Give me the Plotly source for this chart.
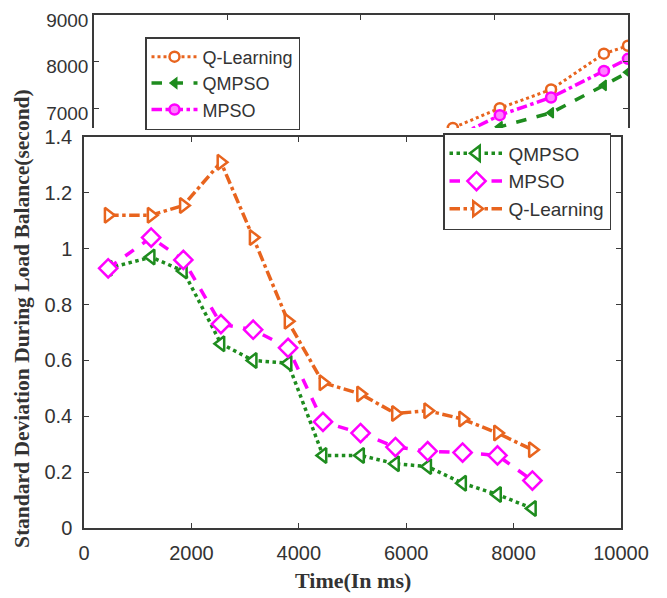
import plotly.graph_objects as go

# ---- main chart data ----
time_ms = [450, 1250, 1850, 2550, 3150, 3800, 4450, 5150, 5800, 6400, 7050, 7700, 8350]
qmpso_sd = [0.93, 0.97, 0.92, 0.66, 0.60, 0.59, 0.26, 0.26, 0.23, 0.22, 0.16, 0.12, 0.07]
mpso_sd = [0.93, 1.04, 0.96, 0.73, 0.71, 0.645, 0.38, 0.34, 0.29, 0.275, 0.27, 0.26, 0.17]
qlearn_sd = [1.12, 1.12, 1.155, 1.31, 1.04, 0.74, 0.52, 0.48, 0.41, 0.42, 0.39, 0.34, 0.28]

main_x_ticks = [0, 2000, 4000, 6000, 8000, 10000]
main_y_ticks = [0, 0.2, 0.4, 0.6, 0.8, 1.0, 1.2, 1.4]
main_y_labels = ["0", "0.2", "0.4", "0.6", "0.8", "1", "1.2", "1.4"]

# ---- partially hidden background chart data ----
bg_time = [5800, 6720, 7600, 8560, 9550, 10000]
bg_qlearn = [6150, 6575, 7000, 7400, 8170, 8340]
bg_qmpso = [5500, 6100, 6600, 6900, 7490, 7770]
bg_mpso = [5800, 6350, 6850, 7230, 7800, 8060]
bg_y_ticks = [7000, 8000, 9000]

W, H = 667, 598
OFF = 8  # page body margin offset
GREEN = "#1e8c1e"
MAGENTA = "#ff00ff"
ORANGE = "#e8641e"
AXIS = "#3a3a3a"
TXT = "#333333"
SANS = "Liberation Sans, Arial, sans-serif"
SERIF = "Liberation Serif, Times New Roman, serif"

def px_x(p):
    return (p - OFF) / W

def px_y(p):
    return 1 - (p - OFF) / H

fig = go.Figure()

# main traces
fig.add_trace(go.Scatter(
    x=time_ms, y=qmpso_sd, name="QMPSO", mode="lines+markers",
    line=dict(color=GREEN, width=3.5, dash="dot"),
    marker=dict(symbol="triangle-left", size=13, color="white",
                line=dict(color=GREEN, width=2.5)),
    xaxis="x", yaxis="y", legend="legend"))
fig.add_trace(go.Scatter(
    x=time_ms, y=mpso_sd, name="MPSO", mode="lines+markers",
    line=dict(color=MAGENTA, width=3.5, dash="dash"),
    marker=dict(symbol="diamond", size=14, color="white",
                line=dict(color=MAGENTA, width=2.5)),
    xaxis="x", yaxis="y", legend="legend"))
fig.add_trace(go.Scatter(
    x=time_ms, y=qlearn_sd, name="Q-Learning", mode="lines+markers",
    line=dict(color=ORANGE, width=3.5, dash="dashdot"),
    marker=dict(symbol="triangle-right", size=13, color="white",
                line=dict(color=ORANGE, width=2.5)),
    xaxis="x", yaxis="y", legend="legend"))

# background traces
fig.add_trace(go.Scatter(
    x=bg_time, y=bg_qlearn, name="Q-Learning", mode="lines+markers",
    line=dict(color=ORANGE, width=3, dash="dot"),
    marker=dict(symbol="circle", size=10, color="white",
                line=dict(color=ORANGE, width=2.5)),
    xaxis="x2", yaxis="y2", legend="legend2"))
fig.add_trace(go.Scatter(
    x=bg_time, y=bg_qmpso, name="QMPSO", mode="lines+markers",
    line=dict(color=GREEN, width=3.5, dash="dash"),
    marker=dict(symbol="triangle-left", size=9, color=GREEN,
                line=dict(color=GREEN, width=1.5)),
    xaxis="x2", yaxis="y2", legend="legend2"))
fig.add_trace(go.Scatter(
    x=bg_time, y=bg_mpso, name="MPSO", mode="lines+markers",
    line=dict(color=MAGENTA, width=3.5, dash="dashdot"),
    marker=dict(symbol="circle", size=10, color="#ff80ff",
                line=dict(color=MAGENTA, width=2.5)),
    xaxis="x2", yaxis="y2", legend="legend2"))

axis_common = dict(showgrid=False, zeroline=False, showline=True,
                   linecolor=AXIS, linewidth=1.5, ticks="inside",
                   ticklen=5, tickwidth=1.2, tickcolor=AXIS, automargin=False,
                   ticklabeloverflow="allow")

main_font = dict(family=SANS, size=20, color=TXT)
bg_font = dict(family=SANS, size=19, color=TXT)

fig.update_layout(
    width=W, height=H, autosize=False,
    margin=dict(l=0, r=0, t=0, b=0, pad=0, autoexpand=False),
    paper_bgcolor="white", plot_bgcolor="white",
    xaxis=dict(domain=[px_x(84), px_x(621)], range=[0, 10000],
               tickvals=main_x_ticks, ticktext=[str(v) for v in main_x_ticks],
               mirror="allticks", anchor="y", ticklabelstandoff=6,
               tickfont=main_font, **axis_common),
    yaxis=dict(domain=[px_y(528), px_y(137)], range=[0, 1.4],
               tickvals=main_y_ticks, ticktext=main_y_labels,
               mirror="allticks", anchor="x", ticklabelstandoff=6,
               tickfont=main_font, **axis_common),
    xaxis2=dict(domain=[px_x(94), px_x(628)], range=[0, 10001],
                tickvals=[0, 2500, 5000, 7500, 10000], showticklabels=False,
                side="top", anchor="y2", tickfont=bg_font, **axis_common),
    yaxis2=dict(domain=[px_y(128), px_y(15)], range=[6574, 9001],
                tickvals=bg_y_ticks, ticktext=[str(v) for v in bg_y_ticks],
                mirror="allticks", anchor="x2", ticklabelstandoff=0,
                ticklabelshift=5,
                tickfont=bg_font, **axis_common),
    legend=dict(x=px_x(443), y=px_y(133), xanchor="left", yanchor="top",
                bgcolor="white", bordercolor=AXIS, borderwidth=1.5,
                font=dict(family=SANS, size=19, color=TXT),
                itemwidth=54, tracegroupgap=0),
    legend2=dict(x=px_x(145), y=px_y(37), xanchor="left", yanchor="top",
                 bgcolor="white", bordercolor=AXIS, borderwidth=1.5,
                 font=dict(family=SANS, size=18, color=TXT),
                 itemwidth=46, tracegroupgap=0),
    showlegend=True,
)

fig.add_annotation(text="<b>Time(In ms)</b>", xref="paper", yref="paper",
                   x=px_x(353), y=px_y(580), xanchor="center", yanchor="middle",
                   showarrow=False,
                   font=dict(family=SERIF, size=22, color=TXT))
fig.add_annotation(text="<b>Standard Deviation During Load Balance(second)</b>",
                   xref="paper", yref="paper", x=px_x(22), y=px_y(319),
                   xanchor="center", yanchor="middle",
                   textangle=-90, showarrow=False,
                   font=dict(family=SERIF, size=21.5, color=TXT))

fig.write_html("out.html")
